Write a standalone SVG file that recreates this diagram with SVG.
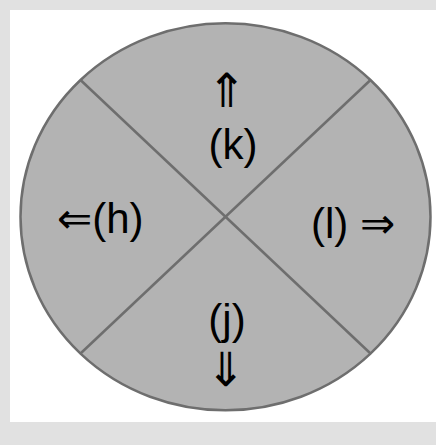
<svg xmlns="http://www.w3.org/2000/svg" width="436" height="445" viewBox="0 0 436 445">
<style>
.lbl{font-family:"Liberation Sans",Arial,"DejaVu Sans",sans-serif;font-size:42px;fill:#000}
.arr{font-size:47px}
.div{stroke:#6e6e6e;stroke-width:2.5;fill:none}
</style>
<rect x="0" y="0" width="436" height="445" fill="#e1e1e1"/>
<rect x="10" y="10" width="426" height="412" fill="#ffffff"/>
<g id="disc">
<ellipse cx="225.5" cy="216.8" rx="205" ry="193.5" fill="#b3b3b3" stroke="#6e6e6e" stroke-width="2.5"/>
</g>
<g id="connectors">
<line class="div" x1="80.5" y1="80" x2="370.5" y2="353.5"/>
<line class="div" x1="370.5" y1="80" x2="80.5" y2="353.5"/>
</g>
<g id="node-k">
<text class="lbl arr" x="227" y="107" text-anchor="middle">⇑</text>
<text class="lbl" x="233" y="159" text-anchor="middle">(k)</text>
</g>
<g id="node-h">
<text class="lbl" x="57" y="233">⇐(h)</text>
</g>
<g id="node-l">
<text class="lbl" x="311" y="238">(l) ⇒</text>
</g>
<g id="node-j">
<text class="lbl" x="227" y="334" text-anchor="middle">(j)</text>
<text class="lbl arr" x="226" y="386" text-anchor="middle">⇓</text>
</g>
</svg>
